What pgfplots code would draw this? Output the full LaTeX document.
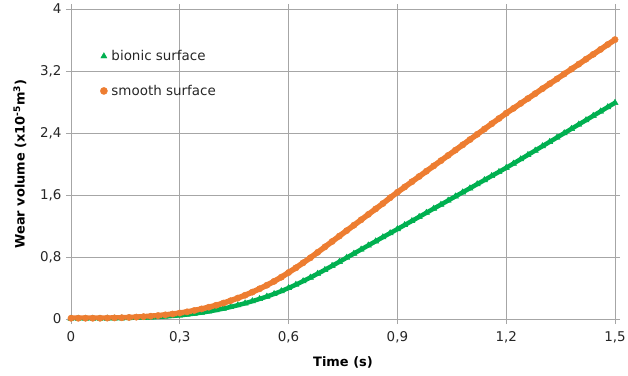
\documentclass[border=0pt]{standalone}
\usepackage{fontspec}
\setmainfont{DejaVu Sans}
\usepackage{pgfplots}
\pgfplotsset{compat=1.18}
\definecolor{orng}{HTML}{ED7D31}
\definecolor{grn}{HTML}{00B050}
\definecolor{gridc}{HTML}{A6A6A6}
\begin{document}
\begin{tikzpicture}
\path[use as bounding box] (-71bp,-57bp) rectangle (557bp,319bp);
\begin{axis}[
  at={(0,0)}, anchor=south west,
  scale only axis, width=544bp, height=310bp,
  xmin=0, xmax=1.5, ymin=0, ymax=4,
  xtick={0,0.3,0.6,0.9,1.2,1.5},
  ytick={0,0.8,1.6,2.4,3.2,4},
  /pgf/number format/assume math mode=true,
  /pgf/number format/use comma,
  /pgf/number format/fixed,
  grid=major,
  grid style={gridc, line width=0.8pt},
  axis line style={gridc, line width=0.8pt},
  tick style={gridc, line width=0.8pt},
  tick align=outside, major tick length=5bp,
  ticklabel style={font=\fontsize{13.5}{15}\selectfont, text=black!85},
  xticklabel style={yshift=-4bp},
  yticklabel style={xshift=-1bp},
  xlabel={\textbf{Time (s)}},
  ylabel={\textbf{Wear volume (x10\textsuperscript{-5}m\textsuperscript{3})}},
  label style={font=\fontsize{13}{15}\selectfont},
  xlabel style={yshift=-7bp},
  ylabel style={yshift=7bp},
  legend style={draw=none, fill=none, at={(0.048,0.88)}, anchor=north west,
    font=\fontsize{13.5}{15}\selectfont, row sep=19bp, text=black!85,
    nodes={inner xsep=4bp}},
  legend cell align=left,
  legend image code/.code={\draw[only marks, mark size=3.6pt] plot coordinates {(0.1cm,0cm)};},
]
\addplot[grn, line width=4.5bp, mark=triangle*, mark size=3.6pt, mark options={solid, line width=0.4pt}] coordinates {
(0,0.005)(0.02,0.005)(0.04,0.005)(0.06,0.005)(0.08,0.005)(0.10,0.006)(0.12,0.007)(0.14,0.009)(0.16,0.011)(0.18,0.014)
(0.20,0.018)(0.22,0.022)(0.24,0.027)(0.26,0.033)(0.28,0.04)(0.30,0.048)(0.32,0.058)(0.34,0.07)(0.36,0.083)(0.38,0.098)
(0.40,0.115)(0.42,0.134)(0.44,0.155)(0.46,0.178)(0.48,0.203)(0.50,0.23)(0.52,0.259)(0.54,0.29)(0.56,0.323)(0.58,0.36)
(0.60,0.40)(0.62,0.443)(0.64,0.488)(0.66,0.535)(0.68,0.584)(0.70,0.634)(0.72,0.686)(0.74,0.738)(0.76,0.791)(0.78,0.844)
(0.80,0.897)(0.82,0.950)(0.84,1.003)(0.86,1.056)(0.88,1.108)(0.90,1.16)(0.92,1.213)(0.94,1.265)(0.96,1.318)(0.98,1.371)
(1.00,1.424)(1.02,1.476)(1.04,1.529)(1.06,1.582)(1.08,1.635)(1.10,1.687)(1.12,1.74)(1.14,1.793)(1.16,1.846)(1.18,1.898)
(1.20,1.951)(1.22,2.006)(1.24,2.062)(1.26,2.118)(1.28,2.174)(1.30,2.23)(1.32,2.286)(1.34,2.342)(1.36,2.398)(1.38,2.454)
(1.40,2.51)(1.42,2.566)(1.44,2.622)(1.46,2.678)(1.48,2.734)(1.50,2.79)
};
\addlegendentry{bionic surface}
\addplot[orng, line width=5.5bp, mark=*, mark size=3.2pt, mark options={solid, line width=0.4pt}] coordinates {
(0,0.01)(0.02,0.01)(0.04,0.01)(0.06,0.01)(0.08,0.01)(0.10,0.012)(0.12,0.014)(0.14,0.016)(0.16,0.02)(0.18,0.024)
(0.20,0.03)(0.22,0.036)(0.24,0.044)(0.26,0.053)(0.28,0.064)(0.30,0.077)(0.32,0.092)(0.34,0.11)(0.36,0.13)(0.38,0.152)
(0.40,0.177)(0.42,0.205)(0.44,0.236)(0.46,0.27)(0.48,0.307)(0.50,0.347)(0.52,0.39)(0.54,0.436)(0.56,0.486)(0.58,0.54)
(0.60,0.6)(0.62,0.66)(0.64,0.725)(0.66,0.79)(0.68,0.86)(0.70,0.93)(0.72,1.0)(0.74,1.07)(0.76,1.14)(0.78,1.21)
(0.80,1.28)(0.82,1.35)(0.84,1.42)(0.86,1.49)(0.88,1.565)(0.90,1.635)(0.92,1.703)(0.94,1.771)(0.96,1.839)(0.98,1.907)
(1.00,1.975)(1.02,2.043)(1.04,2.111)(1.06,2.179)(1.08,2.247)(1.10,2.315)(1.12,2.383)(1.14,2.451)(1.16,2.519)(1.18,2.587)
(1.20,2.655)(1.22,2.718)(1.24,2.782)(1.26,2.845)(1.28,2.908)(1.30,2.972)(1.32,3.035)(1.34,3.098)(1.36,3.162)(1.38,3.225)
(1.40,3.288)(1.42,3.352)(1.44,3.415)(1.46,3.478)(1.48,3.542)(1.50,3.605)
};
\addlegendentry{smooth surface}
\end{axis}
\end{tikzpicture}
\end{document}
